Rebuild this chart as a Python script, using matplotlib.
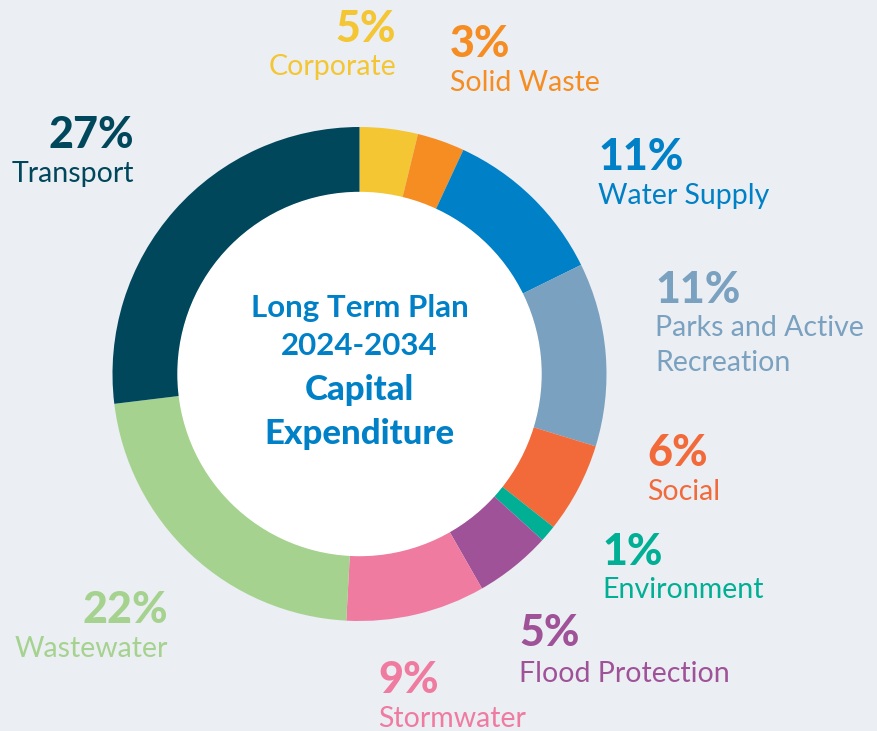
import matplotlib.pyplot as plt

plt.rcParams['font.family'] = ['Lato', 'DejaVu Sans']

# share of capital expenditure, clockwise from the top
categories = ['Corporate', 'Solid Waste', 'Water Supply', 'Parks and Active\nRecreation',
              'Social', 'Environment', 'Flood Protection', 'Stormwater', 'Wastewater', 'Transport']
values = [3.8, 3.1, 10.8, 12.0, 5.9, 1.1, 5.0, 9.1, 22.2, 26.9]
pct_labels = ['5%', '3%', '11%', '11%', '6%', '1%', '5%', '9%', '22%', '27%']
colors = ['#F4C633', '#F58D22', '#0080C6', '#7AA1BF', '#F26A3A',
          '#00AF94', '#A05298', '#F07BA0', '#A5D38F', '#00475C']

# label anchor (x, baseline of percentage, baseline of name, alignment), in pixels from top-left
label_pos = [(396, 42, 75, 'right'), (450, 57, 91, 'left'), (598, 170, 204, 'left'),
             (655, 303, 336, 'left'), (647, 466, 500, 'left'), (602, 565, 598, 'left'),
             (519, 646, 682, 'left'), (378, 693, 727, 'left'), (168, 623, 657, 'right'),
             (134, 148, 182, 'right')]

W, H = 878, 731
bg = '#EBEEF3'
fig = plt.figure(figsize=(W / 100, H / 100), dpi=100, facecolor=bg)
ax = fig.add_axes([0, 0, 1, 1])
ax.set_xlim(0, W)
ax.set_ylim(0, H)
ax.set_aspect('equal')
ax.axis('off')

cx, cy = 359.5, H - 374
ax.pie(values, colors=colors, startangle=90, counterclock=False,
       center=(cx, cy), radius=247, wedgeprops=dict(width=66, linewidth=0))
ax.add_patch(plt.Circle((cx, cy), 181.5, color='white', zorder=3))
ax.set_xlim(0, W)
ax.set_ylim(0, H)

for cat, pct, col, (x, yp, yn, ha) in zip(categories, pct_labels, colors, label_pos):
    ax.text(x, H - yp, pct, color=col, fontsize=31, fontweight='black', ha=ha, va='baseline')
    lines = cat.split('\n')
    for i, line in enumerate(lines):
        ax.text(x, H - yn - 35 * i, line, color=col, fontsize=20.5, ha=ha, va='baseline')

blue = '#0080C6'
ax.text(cx, H - 317, 'Long Term Plan', color=blue, fontsize=22.5, fontweight='bold',
        ha='center', va='baseline', zorder=4)
ax.text(cx, H - 355, '2024-2034', color=blue, fontsize=22.5, fontweight='bold',
        ha='center', va='baseline', zorder=4)
ax.text(cx, H - 400, 'Capital', color=blue, fontsize=25, fontweight='black',
        ha='center', va='baseline', zorder=4)
ax.text(cx, H - 444, 'Expenditure', color=blue, fontsize=25, fontweight='black',
        ha='center', va='baseline', zorder=4)

fig.savefig('out.png', dpi=100, facecolor=bg)
